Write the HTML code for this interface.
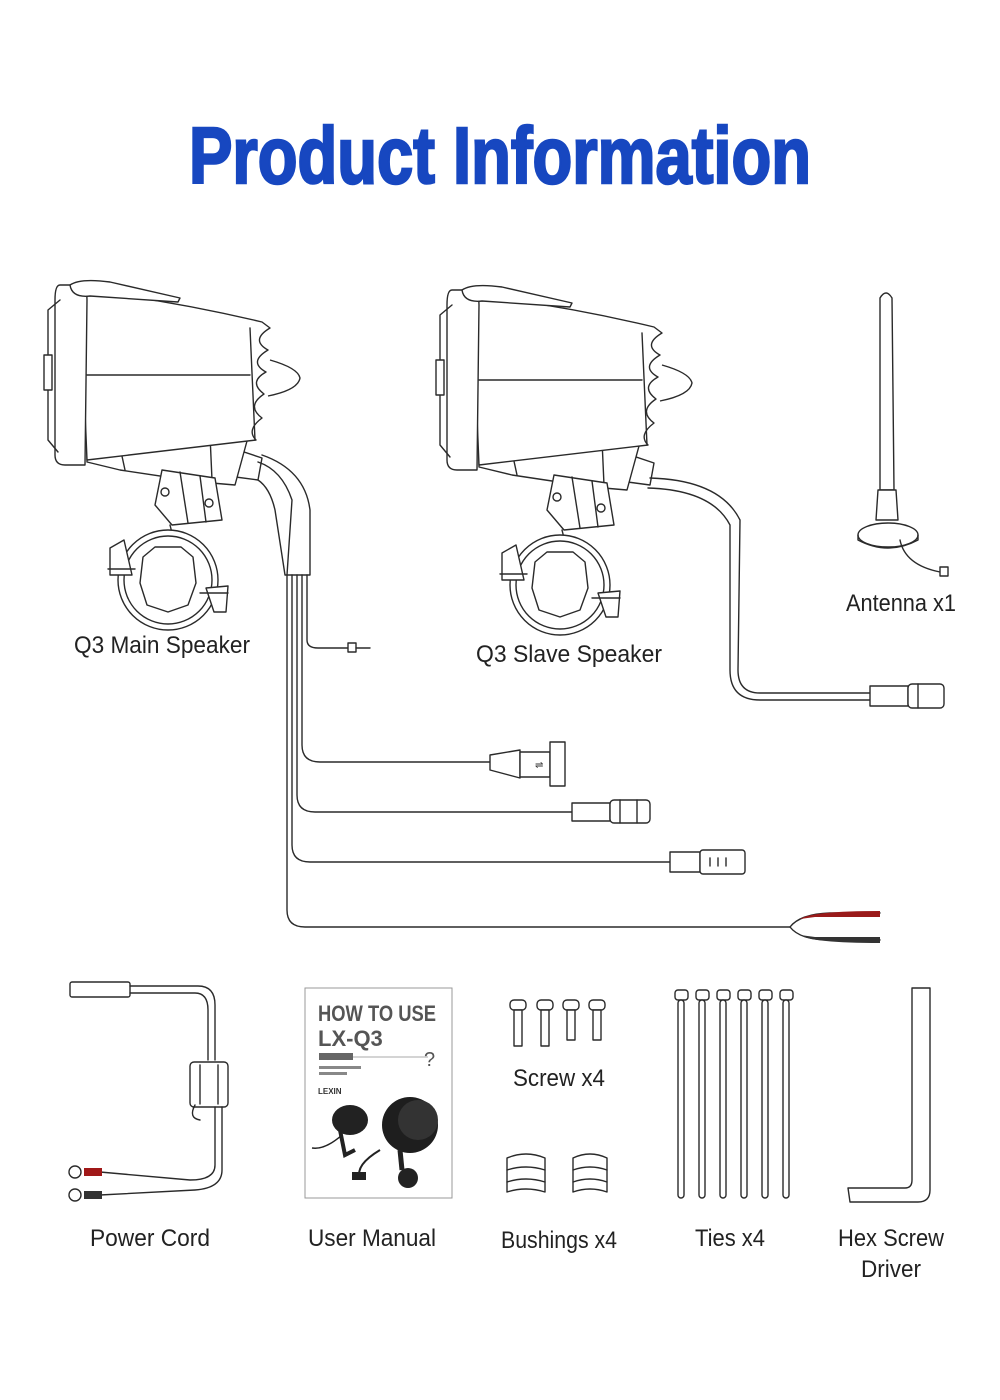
<!DOCTYPE html>
<html><head><meta charset="utf-8"><style>
html,body{margin:0;padding:0;background:#fff;}
svg{display:block;}
.l{fill:none;stroke:#2a2a2a;stroke-width:1.4;stroke-linejoin:round;stroke-linecap:round}
.w{fill:#fff;stroke:#2a2a2a;stroke-width:1.4;stroke-linejoin:round}
.t{font-family:"Liberation Sans",sans-serif;font-size:24px;fill:#222;text-anchor:middle}
</style></head><body>
<svg width="1000" height="1400" viewBox="0 0 1000 1400" xmlns="http://www.w3.org/2000/svg">
<rect width="1000" height="1400" fill="#fff"/>
<text x="500" y="183" font-family="Liberation Sans, sans-serif" font-weight="bold" font-size="80" fill="#1747c0" stroke="#1747c0" stroke-width="2.5" text-anchor="middle" textLength="622" lengthAdjust="spacingAndGlyphs">Product Information</text>

<defs>
<g id="spk">
  <path class="w" d="M232,448 L262,458 L258,480 L228,476 Z"/>
  <path class="w" d="M87,440 L250,430 L235,485 L200,482 L120,470 L87,462 Z"/>
  <line class="l" x1="120" y1="447" x2="125" y2="470"/>
  <line class="l" x1="210" y1="435" x2="212" y2="480"/>
  <path class="w" d="M80,290 Q170,300 262,322 L270,328 Q250,340 268,350 Q248,362 266,372 Q248,382 264,394 Q246,406 262,418 Q246,430 256,440 L87,460 Z"/>
  <line class="l" x1="87" y1="375" x2="250" y2="375"/>
  <line class="l" x1="250" y1="328" x2="255" y2="440"/>
  <path class="w" d="M270,360 Q298,368 300,378 Q298,390 268,396"/>
  <path class="w" d="M60,285 Q55,285 55,300 L55,455 Q55,465 65,465 L85,465 L87,300 Q87,285 78,285 Z"/>
  <path class="l" d="M60,300 L48,310 L48,440 L58,452"/>
  <rect class="w" x="44" y="355" width="8" height="35"/>
  <path class="w" d="M70,285 Q80,278 110,282 L180,298 L178,302 L90,296 Q72,298 70,285 Z"/>
  <path class="w" d="M162,470 L215,478 L222,520 L172,525 L155,505 Z"/>
  <line class="l" x1="180" y1="472" x2="188" y2="523"/>
  <line class="l" x1="200" y1="476" x2="206" y2="522"/>
  <circle class="l" cx="165" cy="492" r="4"/>
  <circle class="l" cx="209" cy="503" r="4"/>
  <line class="l" x1="170" y1="525" x2="172" y2="533"/>
  <circle class="w" cx="168" cy="580" r="50"/>
  <circle class="l" cx="168" cy="580" r="44"/>
  <path class="l" d="M143,557 L155,547 L181,547 L193,557 L196,583 L188,605 L168,612 L147,605 L140,583 Z"/>
  <path class="w" d="M110,548 L124,540 L132,575 L110,575 Z"/>
  <path class="w" d="M206,588 L228,586 L226,612 L214,612 Z"/>
  <line class="l" x1="108" y1="569" x2="135" y2="569"/>
  <line class="l" x1="200" y1="593" x2="228" y2="593"/>
</g>
</defs>

<use href="#spk"/>
<use href="#spk" transform="translate(392,5)"/>

<path class="l" d="M258,462 Q282,470 292,500 L287,575"/>
<path class="l" d="M258,480 Q270,488 275,510 L285,575 L310,575 L310,510 Q305,470 262,455"/>
<path class="l" d="M307,575 L307,640 Q307,648 318,648 L355,648"/>
<rect class="w" x="348" y="643" width="8" height="9"/><line class="l" x1="356" y1="648" x2="370" y2="648"/>
<path class="l" d="M302,575 L302,745 Q302,762 320,762 L490,762"/>
<path class="l" d="M297,575 L297,795 Q297,812 315,812 L572,812"/>
<path class="l" d="M292,575 L292,845 Q292,862 310,862 L670,862"/>
<path class="l" d="M287,575 L287,910 Q287,927 305,927 L790,927"/>
<path class="l" d="M790,927 Q800,914 830,913 L880,913"/>
<path class="l" d="M790,927 Q800,940 830,940 L880,940"/>
<path d="M800,919 Q812,911 880,911 L880,917 L815,917 Z" fill="#9a1a1a"/>
<path d="M800,935 Q812,943 880,943 L880,937 L815,937 Z" fill="#333"/>
<path class="w" d="M490,755 L520,750 L520,778 L490,770 Z"/>
<rect class="w" x="520" y="752" width="30" height="25"/>
<rect class="w" x="550" y="742" width="15" height="44"/>
<text x="535" y="768" font-size="10" font-family="Liberation Sans,sans-serif" fill="#333">⇌</text>
<rect class="w" x="572" y="803" width="38" height="18"/>
<rect class="w" x="610" y="800" width="40" height="23" rx="4"/>
<line class="l" x1="620" y1="800" x2="620" y2="823"/><line class="l" x1="637" y1="800" x2="637" y2="823"/>
<rect class="w" x="670" y="852" width="30" height="20"/>
<rect class="w" x="700" y="850" width="45" height="24" rx="3"/>
<line class="l" x1="710" y1="858" x2="710" y2="866"/><line class="l" x1="718" y1="858" x2="718" y2="866"/><line class="l" x1="726" y1="858" x2="726" y2="866"/>

<path class="l" d="M650,478 Q720,480 740,520 L738,670 Q738,693 760,693 L870,693"/>
<path class="l" d="M648,488 Q712,490 730,525 L730,670 Q730,700 760,700 L870,700"/>
<rect class="w" x="870" y="686" width="38" height="20"/>
<rect class="w" x="908" y="684" width="36" height="24" rx="4"/>
<line class="l" x1="918" y1="684" x2="918" y2="708"/>

<path class="w" d="M880,298 Q886,288 892,298 L894,490 L880,490 Z"/>
<path class="w" d="M878,490 L896,490 L898,520 L876,520 Z"/>
<ellipse class="w" cx="888" cy="535" rx="30" ry="12"/>
<path class="l" d="M858,535 L858,540 Q888,556 918,540 L918,535"/>
<path class="l" d="M900,540 Q905,565 940,572"/>
<rect class="w" x="940" y="567" width="8" height="9"/>

<rect class="w" x="70" y="982" width="60" height="15" rx="2"/>
<path class="l" d="M130,986 L198,986 Q215,986 215,1005 L215,1060"/>
<path class="l" d="M130,993 L195,993 Q208,993 208,1010 L208,1060"/>
<rect class="w" x="190" y="1062" width="38" height="45" rx="4"/>
<line class="l" x1="200" y1="1065" x2="200" y2="1104"/><line class="l" x1="218" y1="1065" x2="218" y2="1104"/>
<path class="l" d="M195,1105 Q188,1118 200,1120"/>
<path class="l" d="M215,1107 L215,1165 Q215,1180 190,1180 L100,1172"/>
<path class="l" d="M222,1107 L222,1170 Q222,1188 195,1190 L100,1195"/>
<circle class="w" cx="75" cy="1172" r="6"/><circle class="w" cx="75" cy="1195" r="6"/>
<rect x="84" y="1168" width="18" height="8" fill="#a01818"/><rect x="84" y="1191" width="18" height="8" fill="#333"/>

<rect x="305" y="988" width="147" height="210" fill="#fff" stroke="#999" stroke-width="1"/>
<text x="318" y="1021" font-family="Liberation Sans,sans-serif" font-weight="bold" font-size="22" fill="#555" textLength="118" lengthAdjust="spacingAndGlyphs">HOW TO USE</text>
<text x="318" y="1046" font-family="Liberation Sans,sans-serif" font-weight="bold" font-size="22" fill="#555">LX-Q3</text>
<rect x="319" y="1053" width="34" height="7" fill="#666"/>
<line x1="353" y1="1057" x2="428" y2="1057" stroke="#aaa"/>
<text x="424" y="1066" font-size="20" font-family="Liberation Sans,sans-serif" fill="#555">?</text>
<rect x="319" y="1066" width="42" height="3" fill="#888"/><rect x="319" y="1072" width="28" height="3" fill="#888"/>
<text x="318" y="1094" font-family="Liberation Sans,sans-serif" font-weight="bold" font-size="8" fill="#333">LEXIN</text>
<ellipse cx="350" cy="1120" rx="18" ry="15" fill="#222"/>
<path d="M340,1130 L345,1155 L355,1150" stroke="#222" stroke-width="4" fill="none"/>
<path d="M342,1135 Q325,1150 312,1148" stroke="#222" stroke-width="1.5" fill="none"/>
<circle cx="410" cy="1125" r="28" fill="#1e1e1e"/>
<circle cx="418" cy="1120" r="20" fill="#333"/>
<circle cx="408" cy="1178" r="10" fill="#222"/>
<path d="M400,1150 L402,1170" stroke="#222" stroke-width="5"/>
<path d="M380,1150 Q355,1165 360,1178" stroke="#222" stroke-width="2" fill="none"/>
<rect x="352" y="1172" width="14" height="8" fill="#222"/>

<g>
<rect class="w" x="510" y="1000" width="16" height="10" rx="4"/><rect class="w" x="514" y="1010" width="8" height="36"/>
<rect class="w" x="537" y="1000" width="16" height="10" rx="4"/><rect class="w" x="541" y="1010" width="8" height="36"/>
<rect class="w" x="563" y="1000" width="16" height="10" rx="4"/><rect class="w" x="567" y="1010" width="8" height="30"/>
<rect class="w" x="589" y="1000" width="16" height="10" rx="4"/><rect class="w" x="593" y="1010" width="8" height="30"/>
</g>
<path class="w" d="M507,1158 Q526,1150 545,1158 L545,1192 Q526,1186 507,1192 Z"/>
<path class="l" d="M507,1170 Q526,1164 545,1170 M507,1182 Q526,1176 545,1182"/>
<path class="w" d="M573,1158 Q590,1150 607,1158 L607,1192 Q590,1186 573,1192 Z"/>
<path class="l" d="M573,1170 Q590,1164 607,1170 M573,1182 Q590,1176 607,1182"/>

<g>
<rect class="w" x="675" y="990" width="13" height="10" rx="3"/><rect class="w" x="678" y="1000" width="6" height="198" rx="3"/>
<rect class="w" x="696" y="990" width="13" height="10" rx="3"/><rect class="w" x="699" y="1000" width="6" height="198" rx="3"/>
<rect class="w" x="717" y="990" width="13" height="10" rx="3"/><rect class="w" x="720" y="1000" width="6" height="198" rx="3"/>
<rect class="w" x="738" y="990" width="13" height="10" rx="3"/><rect class="w" x="741" y="1000" width="6" height="198" rx="3"/>
<rect class="w" x="759" y="990" width="13" height="10" rx="3"/><rect class="w" x="762" y="1000" width="6" height="198" rx="3"/>
<rect class="w" x="780" y="990" width="13" height="10" rx="3"/><rect class="w" x="783" y="1000" width="6" height="198" rx="3"/>
</g>
<path class="w" d="M912,988 L930,988 L930,1190 Q930,1202 918,1202 L850,1202 L848,1188 L905,1188 Q912,1188 912,1180 Z"/>

<text class="t" x="162" y="653" textLength="176" lengthAdjust="spacingAndGlyphs">Q3 Main Speaker</text>
<text class="t" x="569" y="662" textLength="186" lengthAdjust="spacingAndGlyphs">Q3 Slave Speaker</text>
<text class="t" x="901" y="611" textLength="110" lengthAdjust="spacingAndGlyphs">Antenna x1</text>
<text class="t" x="150" y="1246" textLength="120" lengthAdjust="spacingAndGlyphs">Power Cord</text>
<text class="t" x="372" y="1246" textLength="128" lengthAdjust="spacingAndGlyphs">User Manual</text>
<text class="t" x="559" y="1086" textLength="92" lengthAdjust="spacingAndGlyphs">Screw x4</text>
<text class="t" x="559" y="1248" textLength="116" lengthAdjust="spacingAndGlyphs">Bushings x4</text>
<text class="t" x="730" y="1246" textLength="70" lengthAdjust="spacingAndGlyphs">Ties x4</text>
<text class="t" x="891" y="1246" textLength="106" lengthAdjust="spacingAndGlyphs">Hex Screw</text>
<text class="t" x="891" y="1277" textLength="60" lengthAdjust="spacingAndGlyphs">Driver</text>
</svg>
</body></html>
